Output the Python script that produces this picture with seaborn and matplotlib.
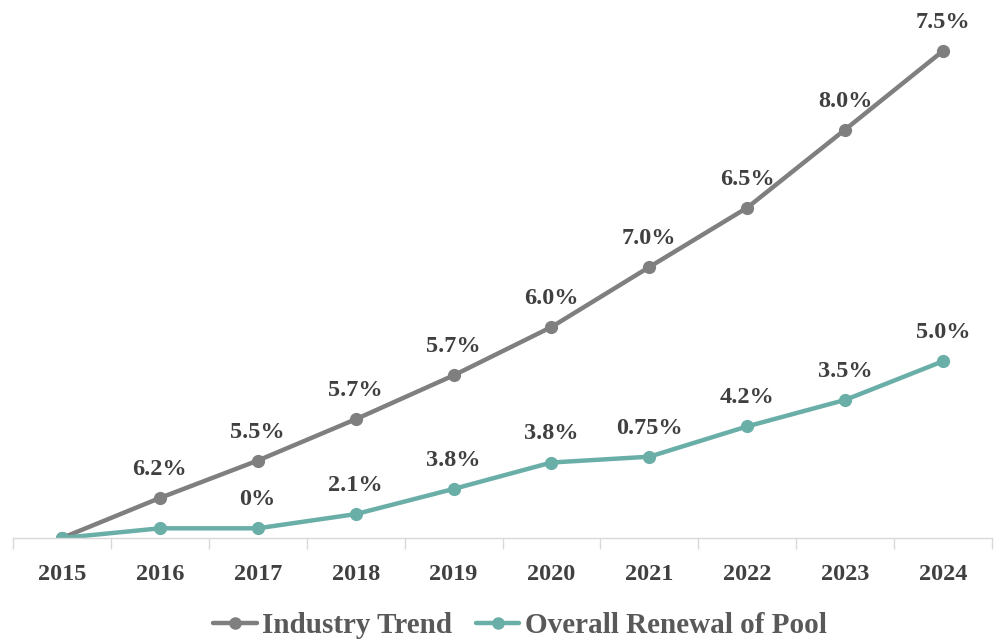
import matplotlib
matplotlib.use("Agg")
import matplotlib.pyplot as plt
from matplotlib.ticker import FixedLocator
from matplotlib.lines import Line2D
import seaborn as sns
import pandas as pd

years = ["2015", "2016", "2017", "2018", "2019", "2020", "2021", "2022", "2023", "2024"]
industry = [0, 6.2, 12.0, 18.4, 25.2, 32.7, 42.0, 51.2, 63.3, 75.5]
renewal = [0, 1.5, 1.5, 3.7, 7.6, 11.7, 12.6, 17.3, 21.4, 27.4]
industry_labels = ["", "6.2%", "5.5%", "5.7%", "5.7%", "6.0%", "7.0%", "6.5%", "8.0%", "7.5%"]
renewal_labels = ["", "", "0%", "2.1%", "3.8%", "3.8%", "0.75%", "4.2%", "3.5%", "5.0%"]
series_names = ["Industry Trend", "Overall Renewal of Pool"]
colors = ["#7f7f7f", "#6aaea8"]

sns.set_theme(style="white")
plt.rcParams["font.family"] = ["Liberation Serif", "DejaVu Serif"]

df = pd.DataFrame({
    "x": list(range(len(years))) * 2,
    "value": industry + renewal,
    "series": [series_names[0]] * len(years) + [series_names[1]] * len(years),
})

fig = plt.figure(figsize=(10, 6.42), dpi=100)
ax = fig.add_axes([0.013, 0.162, 0.979, 0.804])
sns.lineplot(data=df, x="x", y="value", hue="series", palette=colors,
             marker="o", markersize=9.5, markeredgewidth=0, linewidth=3.2,
             ax=ax, legend=False)

ax.set_xlim(-0.5, len(years) - 0.5)
ax.set_ylim(0, 80)
ax.set_xlabel("")
ax.set_ylabel("")
ax.set_yticks([])
ax.set_xticks(range(len(years)))
ax.set_xticklabels(years, fontsize=17.5, fontweight="bold", color="#404040")
ax.xaxis.set_minor_locator(FixedLocator([i - 0.5 for i in range(len(years) + 1)]))
ax.tick_params(axis="x", which="major", length=0, pad=19)
ax.tick_params(axis="x", which="minor", length=8, width=1, color="#d9d9d9", bottom=True)
for s in ["top", "right", "left"]:
    ax.spines[s].set_visible(False)
ax.spines["bottom"].set_color("#d9d9d9")
ax.spines["bottom"].set_linewidth(1)

for i, (v, lab) in enumerate(zip(industry, industry_labels)):
    if lab:
        ax.annotate(lab, (i, v), xytext=(0, 13), textcoords="offset points",
                    ha="center", va="bottom", fontsize=17.5, fontweight="bold", color="#404040")
for i, (v, lab) in enumerate(zip(renewal, renewal_labels)):
    if lab:
        ax.annotate(lab, (i, v), xytext=(0, 13), textcoords="offset points",
                    ha="center", va="bottom", fontsize=17.5, fontweight="bold", color="#404040")

handles = [Line2D([0], [0], color=c, linewidth=3.2, marker="o", markersize=8) for c in colors]
leg = fig.legend(handles, series_names, loc="center", bbox_to_anchor=(0.52, 0.025),
                 ncol=2, frameon=False, handlelength=1.5, handletextpad=0.2,
                 columnspacing=0.8, labelcolor="#595959",
                 prop={"weight": "bold", "size": 21})

fig.savefig("out.png", dpi=100)
